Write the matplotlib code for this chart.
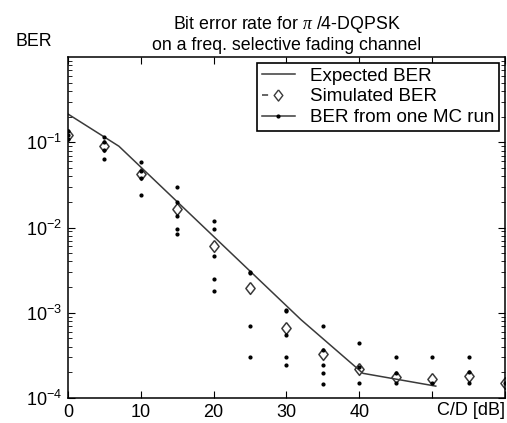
import matplotlib
matplotlib.use("Agg")
import matplotlib.pyplot as plt
from matplotlib.lines import Line2D
from matplotlib.ticker import LogLocator, NullFormatter

plt.rcParams['font.family'] = ['Liberation Sans', 'DejaVu Sans']
plt.rcParams['mathtext.fontset'] = 'custom'
plt.rcParams['mathtext.rm'] = 'Liberation Sans'
plt.rcParams['mathtext.it'] = 'Liberation Serif:italic'
plt.rcParams['axes.unicode_minus'] = False

# Expected BER curve (C/D in dB)
exp_snr = [0, 7, 32, 40.5, 50.5]
exp_ber = [0.215, 0.09, 8.3e-4, 1.95e-4, 1.38e-4]

# Simulated BER (mean over MC runs)
sim_snr = [0, 5, 10, 15, 20, 25, 30, 35, 40, 45, 50, 55, 60]
sim_ber = [0.121, 0.090, 0.042, 0.0163, 6.0e-3, 1.95e-3, 6.6e-4,
           3.3e-4, 2.19e-4, 1.78e-4, 1.67e-4, 1.8e-4, 1.49e-4]

# BER from the individual MC runs, per C/D point
mc_ber = [
    [0.135, 0.122, 0.11],
    [0.115, 0.10, 0.081, 0.063],
    [0.0586, 0.046, 0.0377, 0.0244],
    [0.0298, 0.0199, 0.0138, 0.0097, 0.0085],
    [0.0121, 0.0097, 0.0046, 0.0025, 0.0018],
    [0.0030, 0.0029, 7.0e-4, 3.0e-4],
    [1.08e-3, 1.05e-3, 5.5e-4, 3.0e-4, 2.44e-4],
    [7.0e-4, 3.67e-4, 2.44e-4, 1.99e-4, 1.46e-4],
    [4.48e-4, 2.33e-4, 1.5e-4],
    [3.0e-4, 1.95e-4, 1.5e-4],
    [3.0e-4, 1.5e-4],
    [3.0e-4, 2.04e-4, 1.5e-4],
    [1.5e-4],
]

xticks = [0, 10, 20, 30, 40, 50, 60]
xticklabels = ['0', '10', '20', '30', '40', '', '']

line_col = '#3a3a3a'
fs = 13
diamond = [(0, 1), (0.78, 0), (0, -1), (-0.78, 0), (0, 1)]

fig = plt.figure(figsize=(5.07, 4.23), dpi=100)
ax = fig.add_axes([0.134, 0.059, 0.862, 0.806])

ax.plot(exp_snr, exp_ber, '-', color=line_col, lw=1.1)
ax.plot(sim_snr, sim_ber, linestyle='none', marker=diamond, markersize=8.5,
        markerfacecolor='none', markeredgecolor=line_col, markeredgewidth=1.1)
for snr, vals in zip(sim_snr, mc_ber):
    ax.plot([snr] * len(vals), vals, linestyle='none', marker='o',
            markersize=2.0, color='black')

ax.set_yscale('log')
ax.set_xlim(0, 60)
ax.set_ylim(1e-4, 1)
ax.set_xticks(xticks)
ax.set_xticklabels(xticklabels)
ax.set_yticks([1e-4, 1e-3, 1e-2, 1e-1])
ax.yaxis.set_minor_locator(LogLocator(base=10, subs=range(2, 10)))
ax.yaxis.set_minor_formatter(NullFormatter())
ax.tick_params(which='both', direction='in', top=True, right=True,
               labelsize=fs, color='black')
ax.tick_params(which='major', length=5, pad=4)
ax.tick_params(which='minor', length=3)
for s in ax.spines.values():
    s.set_linewidth(1.1)

ax.text(60, -0.012, 'C/D [dB]', transform=ax.get_xaxis_transform(),
        ha='right', va='top', fontsize=fs)

ax.set_title('Bit error rate for $\\pi$ /4-DQPSK\non a freq. selective fading channel',
             fontsize=12.8, pad=5)
fig.text(0.03, 0.892, 'BER', fontsize=12.8, va='baseline')

handles = [
    Line2D([], [], color=line_col, lw=1.1),
    Line2D([], [], color=line_col, lw=1.1, dashes=(4, 40), marker=diamond,
           markersize=8, markerfacecolor='none', markeredgecolor=line_col),
    Line2D([], [], color=line_col, lw=1.1, marker='o', markersize=2.0,
           markerfacecolor='black', markeredgecolor='black'),
]
labels = ['Expected BER', 'Simulated BER', 'BER from one MC run']
leg = ax.legend(handles, labels, loc='upper right', fontsize=13.5,
                frameon=True, fancybox=False, framealpha=1, edgecolor='black',
                borderaxespad=0.3, borderpad=0.25, labelspacing=0.2,
                handlelength=1.8, handletextpad=0.8)
leg.get_frame().set_linewidth(1.2)

fig.savefig('out.png', dpi=100)
